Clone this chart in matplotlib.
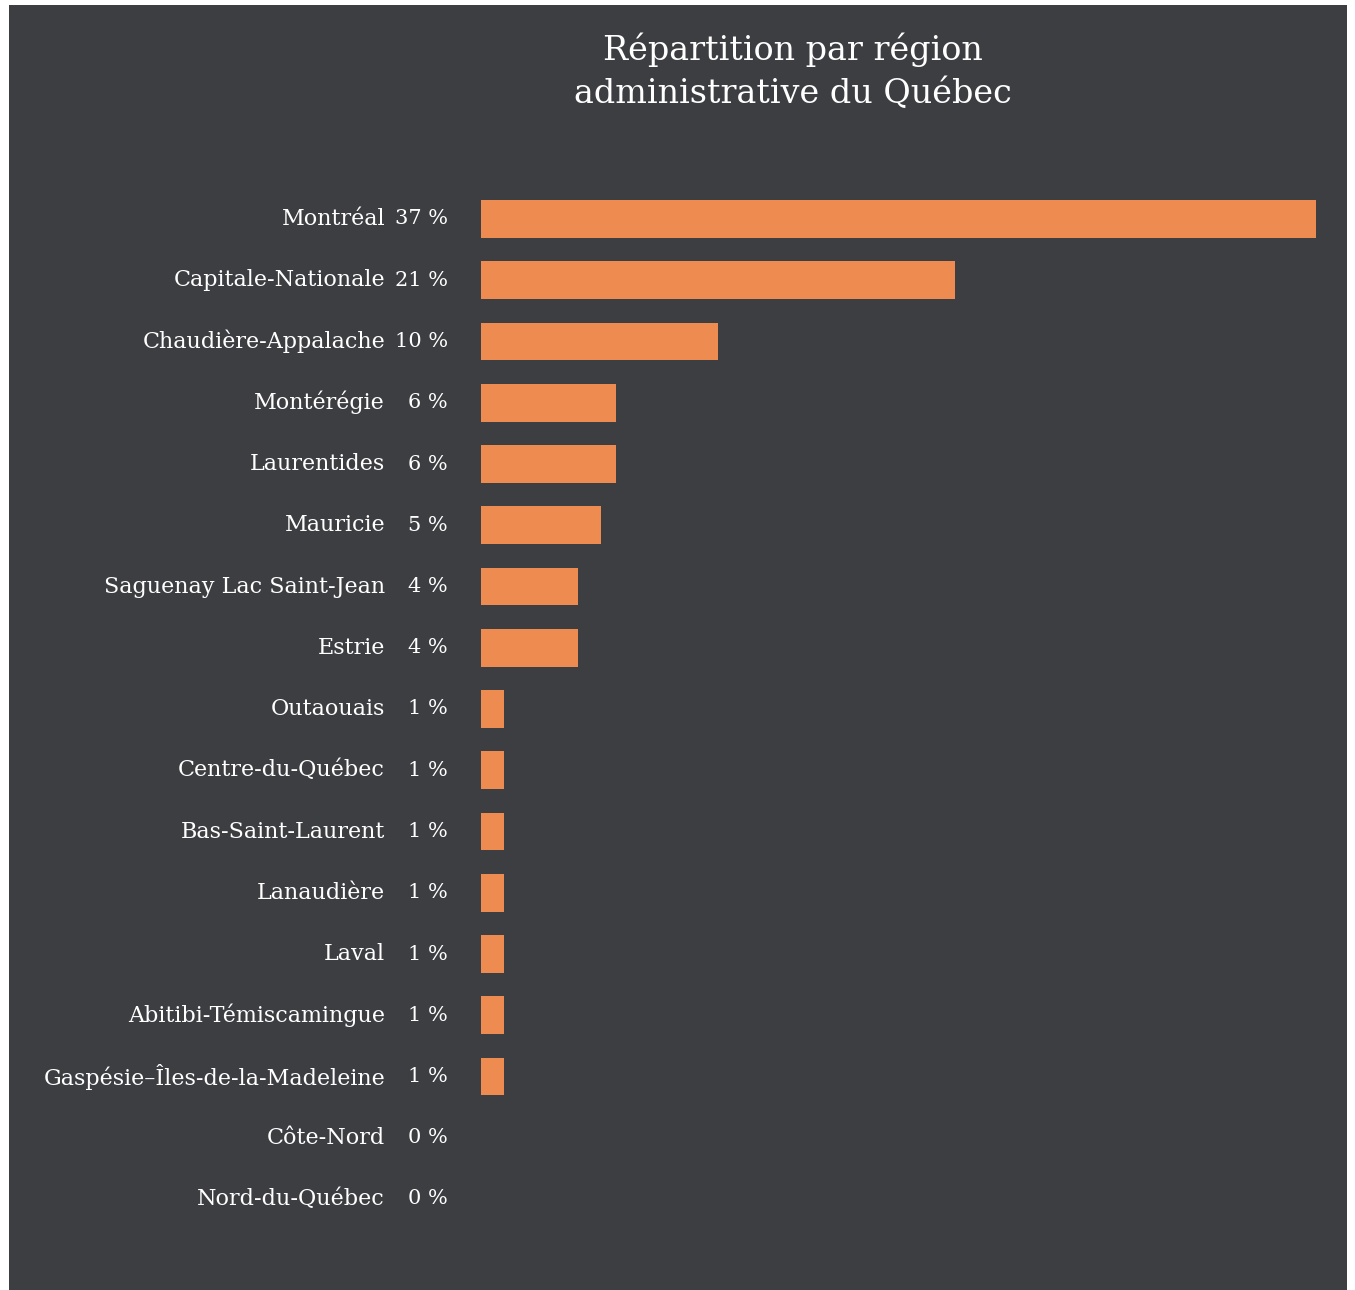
import matplotlib
matplotlib.use("Agg")
import matplotlib.pyplot as plt
from matplotlib.patches import Rectangle

regions = ["Montréal", "Capitale-Nationale", "Chaudière-Appalache", "Montérégie",
           "Laurentides", "Mauricie", "Saguenay Lac Saint-Jean", "Estrie",
           "Outaouais", "Centre-du-Québec", "Bas-Saint-Laurent", "Lanaudière",
           "Laval", "Abitibi-Témiscamingue", "Gaspésie\u2013Îles-de-la-Madeleine",
           "Côte-Nord", "Nord-du-Québec"]
values = [37, 21, 10.5, 6, 6, 5.3, 4.3, 4.3, 1, 1, 1, 1, 1, 1, 1, 0, 0]
pct_labels = ["37 %", "21 %", "10 %", "6 %", "6 %", "5 %", "4 %", "4 %", "1 %",
              "1 %", "1 %", "1 %", "1 %", "1 %", "1 %", "0 %", "0 %"]
title = "Répartition par région\nadministrative du Québec"

BG = "#3d3e42"
ORANGE = "#ee8b50"
FONT = "DejaVu Serif"

W, H = 1355, 1290
fig = plt.figure(figsize=(W / 100, H / 100), dpi=100, facecolor="white")
fig.patches.append(Rectangle((9 / W, 0), (1347 - 9) / W, (H - 5) / H,
                             transform=fig.transFigure, facecolor=BG,
                             edgecolor="none", zorder=-10))

n = len(regions)
step = (1199 - 219) / (n - 1)
top_px = 219 - step / 2
bot_px = 1199 + step / 2
ax = fig.add_axes([481 / W, 1 - bot_px / H, (1316 - 481) / W, (bot_px - top_px) / H])
ax.set_zorder(5)
ax.set_facecolor("none")
ypos = list(range(n))
ax.barh(ypos, values, height=0.62, color=ORANGE)
ax.set_xlim(0, 37)
ax.set_ylim(n - 0.5, -0.5)
ax.axis("off")

name_x = 385
pct_x = 448
for i, (name, pl) in enumerate(zip(regions, pct_labels)):
    ax.annotate(name, xy=(0, i), xycoords=("axes fraction", "data"),
                xytext=(name_x - 481, 0), textcoords="offset pixels",
                ha="right", va="center", color="white", fontsize=16, family=FONT,
                annotation_clip=False)
    ax.annotate(pl, xy=(0, i), xycoords=("axes fraction", "data"),
                xytext=(pct_x - 481, 0), textcoords="offset pixels",
                ha="right", va="center", color="white", fontsize=15, family=FONT,
                annotation_clip=False)

fig.text(793 / W, 1 - 71 / H, title, ha="center", va="center", color="white",
         fontsize=24, family=FONT, linespacing=1.4, zorder=6)

fig.savefig("out.png", dpi=100, facecolor="white")
